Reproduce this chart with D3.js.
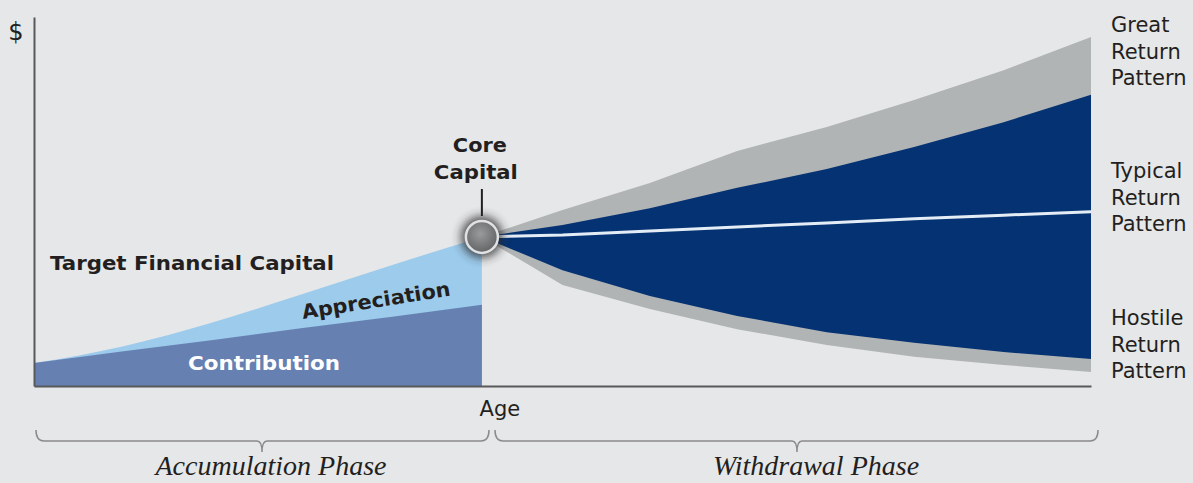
<!DOCTYPE html>
<html>
<head>
<meta charset="utf-8">
<script src="https://cdn.jsdelivr.net/npm/d3@7"></script>
<style>
  html, body { margin: 0; padding: 0; background: #e6e7e9; }
  svg { display: block; }
</style>
</head>
<body>
<div id="chart"></div>
<script>
// accumulation phase (time index -> $ value, 0..100)
const accumT = [0, 2, 4, 6, 8, 10];
const contribution = [6.2, 9.4, 12.5, 15.7, 18.8, 22.0];
const targetCapital = [6.2, 10.8, 17.3, 24.9, 32.8, 40.4];

// withdrawal phase
const withdrawT = [10, 11.8, 13.75, 15.7, 17.7, 19.65, 21.65, 23.6];
const greatOuter = [40.4, 47.7, 55.0, 63.7, 70.2, 77.5, 85.6, 94.6];
const greatInner = [40.4, 43.6, 48.2, 53.7, 58.8, 64.8, 71.5, 78.9];
const typical = [40.4, 40.9, 42.0, 43.1, 44.2, 45.3, 46.3, 47.2];
const hostileInner = [40.4, 31.4, 24.4, 19.0, 14.6, 11.7, 9.2, 7.3];
const hostileOuter = [40.4, 27.4, 20.9, 15.4, 11.1, 7.9, 5.7, 3.8];

const patternLabels = [
  ['Great', 'Return', 'Pattern'],
  ['Typical', 'Return', 'Pattern'],
  ['Hostile', 'Return', 'Pattern']
];
const patternTops = [32, 178, 325];

const W = 1193, H = 483;
const svg = d3.select('#chart').append('svg').attr('width', W).attr('height', H);

const x = d3.scaleLinear().domain([0, 23.6]).range([34, 1091]);
const y = d3.scaleLinear().domain([0, 100]).range([386, 17]);

const defs = svg.append('defs');
const glow = defs.append('filter').attr('id', 'glow')
    .attr('x', '-100%').attr('y', '-100%').attr('width', '300%').attr('height', '300%');
glow.append('feGaussianBlur').attr('stdDeviation', 5);
const grad = defs.append('radialGradient').attr('id', 'sphere')
    .attr('cx', '45%').attr('cy', '40%').attr('r', '65%');
grad.append('stop').attr('offset', '0%').attr('stop-color', '#9a9b9c');
grad.append('stop').attr('offset', '100%').attr('stop-color', '#5e5f61');

const acc = accumT.map((t, i) => ({t, c: contribution[i], a: targetCapital[i]}));
const wd = withdrawT.map((t, i) => ({
  t, go: greatOuter[i], gi: greatInner[i], ty: typical[i], hi: hostileInner[i], ho: hostileOuter[i]
}));

// withdrawal fan
svg.append('path')
    .attr('fill', '#b1b4b5')
    .attr('d', d3.area().x(d => x(d.t)).y0(d => y(d.ho)).y1(d => y(d.go))(wd));
svg.append('path')
    .attr('fill', '#053273')
    .attr('d', d3.area().x(d => x(d.t)).y0(d => y(d.hi)).y1(d => y(d.gi))(wd));
svg.append('path')
    .attr('fill', 'none')
    .attr('stroke', '#e4ecf5')
    .attr('stroke-width', 3)
    .attr('d', d3.line().x(d => x(d.t)).y(d => y(d.ty))(wd));

// accumulation
svg.append('path')
    .attr('fill', '#9dcbec')
    .attr('d', d3.area().x(d => x(d.t)).y0(y(0)).y1(d => y(d.a)).curve(d3.curveMonotoneX)(acc));
svg.append('path')
    .attr('fill', '#6680b2')
    .attr('d', d3.area().x(d => x(d.t)).y0(y(0)).y1(d => y(d.c))(acc));

// axes
svg.append('g').attr('transform', 'translate(0,' + y(0) + ')')
    .call(d3.axisBottom(x).ticks(0).tickSizeOuter(0));
svg.append('g').attr('transform', 'translate(' + x(0) + ',0)')
    .call(d3.axisLeft(y).ticks(0).tickSizeOuter(0));
svg.selectAll('.domain').attr('stroke', '#58595b').attr('stroke-width', 2);

svg.append('text').attr('x', 16).attr('y', 40).attr('text-anchor', 'middle')
    .attr('font-family', 'DejaVu Sans').attr('font-size', 24).attr('fill', '#231f20').text('$');
svg.append('text').attr('x', x(10) + 18).attr('y', 416).attr('text-anchor', 'middle')
    .attr('font-family', 'DejaVu Sans').attr('font-size', 21).attr('fill', '#231f20').text('Age');

// core capital marker
const cx = x(10), cy = y(40.4);
svg.append('line').attr('x1', cx).attr('x2', cx).attr('y1', 189).attr('y2', 216)
    .attr('stroke', '#231f20').attr('stroke-width', 2);
svg.append('circle').attr('cx', cx).attr('cy', cy).attr('r', 21)
    .attr('fill', '#2a2a2a').attr('opacity', 0.8).attr('filter', 'url(#glow)');
svg.append('circle').attr('cx', cx).attr('cy', cy).attr('r', 16)
    .attr('fill', 'url(#sphere)').attr('stroke', '#e0e1e2').attr('stroke-width', 2.5);

const bold = {'font-family': 'DejaVu Sans', 'font-weight': 'bold', 'font-size': 20};
function label(txt, px, py, len, color, anchor) {
  const t = svg.append('text').attr('x', px).attr('y', py).attr('fill', color || '#231f20')
      .attr('text-anchor', anchor || 'start').text(txt);
  Object.entries(bold).forEach(([k, v]) => t.attr(k, v));
  if (len) t.attr('textLength', len).attr('lengthAdjust', 'spacingAndGlyphs');
  return t;
}
label('Core', cx - 2, 152, 54, '#231f20', 'middle');
label('Capital', cx - 6, 179, 84, '#231f20', 'middle');
label('Target Financial Capital', 50, 270, 284);
label('Contribution', 188, 370, 152, '#ffffff');
label('Appreciation', 0, 0, 150).attr('transform', 'translate(303,319) rotate(-9)');

// pattern labels
patternLabels.forEach((lines, i) => {
  lines.forEach((l, j) => {
    svg.append('text').attr('x', 1111).attr('y', patternTops[i] + j * 26.5)
        .attr('font-family', 'DejaVu Sans').attr('font-size', 21).attr('fill', '#231f20').text(l);
  });
});

// phase braces
function brace(x0, x1, tip) {
  const yb = 441, r = 8;
  return 'M' + x0 + ',' + (yb - 11) + ' Q' + x0 + ',' + yb + ' ' + (x0 + r) + ',' + yb +
    ' L' + (tip - 5) + ',' + yb + ' Q' + tip + ',' + yb + ' ' + tip + ',' + (yb + 11) +
    ' Q' + tip + ',' + yb + ' ' + (tip + 5) + ',' + yb +
    ' L' + (x1 - r) + ',' + yb + ' Q' + x1 + ',' + yb + ' ' + x1 + ',' + (yb - 11);
}
svg.append('path').attr('d', brace(36, 489, 262)).attr('fill', 'none').attr('stroke', '#8a8b8d').attr('stroke-width', 1.5);
svg.append('path').attr('d', brace(495, 1098, 797)).attr('fill', 'none').attr('stroke', '#8a8b8d').attr('stroke-width', 1.5);

svg.append('text').attr('x', 271).attr('y', 475).attr('text-anchor', 'middle')
    .attr('font-family', 'Liberation Serif').attr('font-style', 'italic').attr('font-size', 28)
    .attr('fill', '#231f20').text('Accumulation Phase');
svg.append('text').attr('x', 816).attr('y', 475).attr('text-anchor', 'middle')
    .attr('font-family', 'Liberation Serif').attr('font-style', 'italic').attr('font-size', 28)
    .attr('fill', '#231f20').text('Withdrawal Phase');
</script>
</body>
</html>
